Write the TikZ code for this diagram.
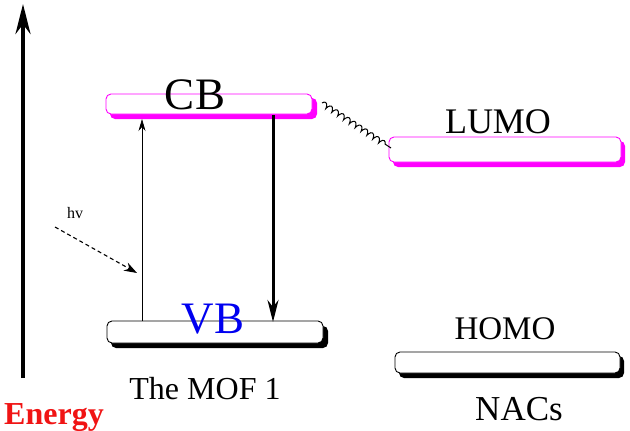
\documentclass[tikz,border=0pt]{standalone}
\usepackage{fontspec}
\setmainfont{Liberation Serif}
\usetikzlibrary{arrows.meta,decorations.pathmorphing}
\definecolor{mag}{RGB}{255,0,255}
\definecolor{energyred}{RGB}{240,20,20}
\definecolor{vbblue}{RGB}{0,0,240}
\tikzset{
  level/.style={draw=#1, fill=white, rounded corners=5pt, line width=0.9pt},
  shadowbox/.style={fill=#1, rounded corners=5pt},
  lbl/.style={anchor=base, inner sep=0pt, font=\fontsize{#1}{#1}\selectfont},
}
\begin{document}
\begin{tikzpicture}[x=1pt,y=-1pt]
\useasboundingbox (0,0) rectangle (630,431);
% Energy axis
\coordinate (eb) at (23,378);
\coordinate (et) at (23,4);
\draw[line width=4pt, -{Stealth[length=30pt,width=15pt]}] (eb) -- (et);
\node[lbl=32, text=energyred, font=\fontsize{32}{32}\selectfont\bfseries] (energy) at (54,424) {Energy};
% shadows
\fill[shadowbox=mag] (110,98) rectangle (317,119);
\fill[shadowbox=mag] (393,141) rectangle (625,167);
\fill[shadowbox=black] (111,326) rectangle (328,348);
\fill[shadowbox=black] (399,356) rectangle (624,378);
% levels
\draw[level=mag] (106,94) rectangle (312,114);
\draw[level=mag] (389,137) rectangle (621,162);
\draw[level=black] (107,321) rectangle (323,343);
\draw[level=black] (395,352) rectangle (620,373);
% node anchors
\coordinate (cbR) at (322,103);
\coordinate (lumoL) at (391,148);
\coordinate (upS) at (142,321);
\coordinate (upE) at (142,119);
\coordinate (dnS) at (273,115);
\coordinate (dnE) at (273,322);
\coordinate (hvS) at (55,227);
\coordinate (hvE) at (137,273);
% labels
\node[lbl=45] (cb) at (195,109) {CB};
\node[lbl=45, text=vbblue] (vb) at (213,333) {VB};
\node[lbl=36] (lumo) at (498,133) {LUMO};
\node[lbl=33] (homo) at (505,339) {HOMO};
\node[lbl=35] (nacs) at (519,420) {NACs};
\node[lbl=32] (mof) at (205,399) {The MOF 1};
\node[lbl=16] (hv) at (75,218) {hv};
% arrows
\draw[line width=0.7pt, -{Stealth[length=12pt,width=7pt]}] (upS) -- (upE);
\draw[line width=3pt, -{Stealth[length=22pt,width=11pt]}] (dnS) -- (dnE);
\draw[line width=1.1pt, dash pattern=on 4pt off 3pt, -{Stealth[length=13pt,width=9pt]}] (hvS) -- (hvE);
\draw[line width=1pt, decorate, decoration={coil, amplitude=2.5pt, segment length=7pt, aspect=0.4}] (cbR) -- (lumoL);
\end{tikzpicture}
\end{document}
